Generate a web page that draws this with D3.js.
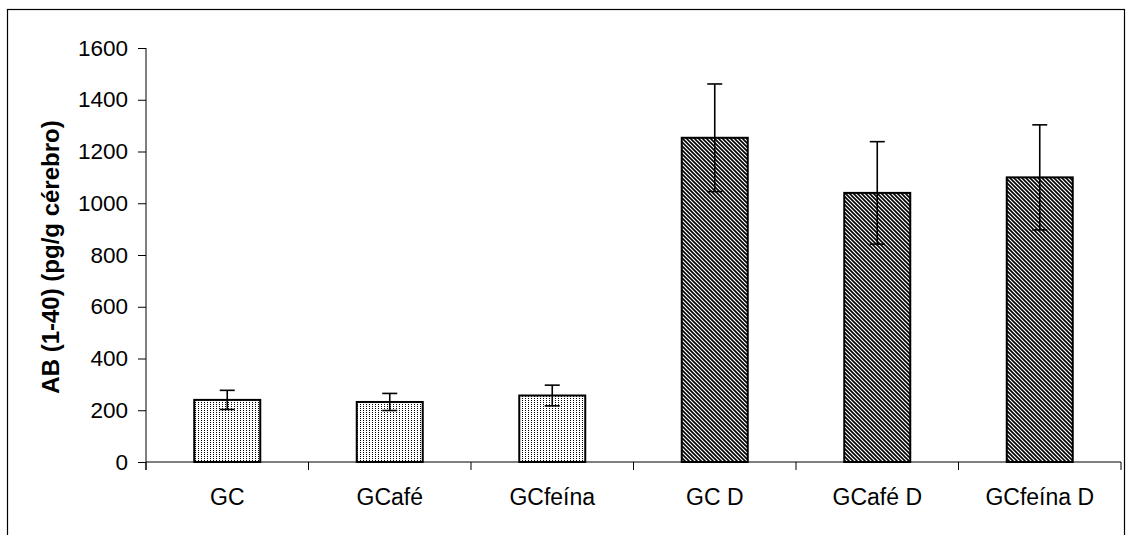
<!DOCTYPE html>
<html>
<head>
<meta charset="utf-8">
<script src="https://cdn.jsdelivr.net/npm/d3@7"></script>
<style>
  body { margin: 0; background: #fff; }
  svg { display: block; font-family: "Liberation Sans", Arial, sans-serif; }
</style>
</head>
<body>
<svg id="graph" width="1126" height="535"></svg>
<script>
var categories = ["GC", "GCafé", "GCfeína", "GC D", "GCafé D", "GCfeína D"];
var means = [240, 232, 257, 1253, 1040, 1100];
var errors = [37, 33, 40, 208, 198, 203];
var fills = ["dots", "dots", "dots", "hatch", "hatch", "hatch"];
var yTicks = [0, 200, 400, 600, 800, 1000, 1200, 1400, 1600];
var yTitle = "AB (1-40) (pg/g cérebro)";

var svg = d3.select("#graph");
var mLeft = 146, mTop = 48, mRight = 1121, mBottom = 462;

// outer frame
svg.append("rect")
    .attr("x", 7.5).attr("y", 9.5)
    .attr("width", 1117).attr("height", 540)
    .attr("fill", "none").attr("stroke", "#000").attr("stroke-width", 1.2);

var defs = svg.append("defs");
var dots = defs.append("pattern").attr("id", "dots")
    .attr("patternUnits", "userSpaceOnUse").attr("width", 3).attr("height", 2);
dots.append("rect").attr("width", 3).attr("height", 2).attr("fill", "#fff");
dots.append("rect").attr("width", 1).attr("height", 1).attr("fill", "#000");

var hatch = defs.append("pattern").attr("id", "hatch")
    .attr("patternUnits", "userSpaceOnUse").attr("width", 4).attr("height", 4);
hatch.append("rect").attr("width", 4).attr("height", 4).attr("fill", "#fff");
hatch.append("path").attr("d", "M-1,-1 L5,5 M-1,3 L1,5 M3,-1 L5,1")
    .attr("stroke", "#000").attr("stroke-width", 1.6);

var x = d3.scaleBand().domain(categories).range([mLeft, mRight]).paddingInner(0).paddingOuter(0);
var y = d3.scaleLinear().domain([0, 1600]).range([mBottom, mTop]);

var yAxis = svg.append("g")
    .attr("transform", "translate(" + mLeft + ",0)")
    .call(d3.axisLeft(y).tickValues(yTicks).tickFormat(d3.format("d"))
        .tickSize(8).tickPadding(10).tickSizeOuter(0));
yAxis.select(".domain").attr("d", "M0," + mTop + "V" + (mBottom + 8));
yAxis.selectAll("text").attr("font-size", 22.5).attr("font-family", "Liberation Sans, Arial").attr("fill", "#000");
yAxis.selectAll("line, path").attr("stroke", "#000");

var xAxis = svg.append("g")
    .attr("transform", "translate(0," + mBottom + ")")
    .call(d3.axisBottom(x).tickSize(0).tickPadding(27));
xAxis.select(".domain").attr("d", "M" + mLeft + ",0H" + mRight);
xAxis.selectAll("text").attr("font-size", 23).attr("font-family", "Liberation Sans, Arial").attr("fill", "#000");
xAxis.selectAll("path").attr("stroke", "#000");
// boundary ticks between categories
xAxis.selectAll(".bound")
    .data(categories.concat([null]))
    .enter().append("line")
    .attr("x1", function(d, i) { return mLeft + i * x.bandwidth(); })
    .attr("x2", function(d, i) { return mLeft + i * x.bandwidth(); })
    .attr("y1", 0).attr("y2", 8)
    .attr("stroke", "#000");

var barW = 66;
svg.selectAll(".bar")
    .data(means)
    .enter().append("rect")
    .attr("x", function(d, i) { return x(categories[i]) + x.bandwidth() / 2 - barW / 2; })
    .attr("y", function(d) { return y(d); })
    .attr("width", barW)
    .attr("height", function(d) { return mBottom - y(d); })
    .attr("fill", function(d, i) { return "url(#" + fills[i] + ")"; })
    .attr("stroke", "#000").attr("stroke-width", 2);

var err = svg.selectAll(".err")
    .data(means)
    .enter().append("g")
    .attr("transform", function(d, i) { return "translate(" + (x(categories[i]) + x.bandwidth() / 2) + ",0)"; });
err.append("line")
    .attr("y1", function(d, i) { return y(d + errors[i]); })
    .attr("y2", function(d, i) { return y(d - errors[i]); })
    .attr("stroke", "#000").attr("stroke-width", 1.6);
err.append("line").attr("x1", -7.5).attr("x2", 7.5)
    .attr("y1", function(d, i) { return y(d + errors[i]); })
    .attr("y2", function(d, i) { return y(d + errors[i]); })
    .attr("stroke", "#000").attr("stroke-width", 1.6);
err.append("line").attr("x1", -7.5).attr("x2", 7.5)
    .attr("y1", function(d, i) { return y(d - errors[i]); })
    .attr("y2", function(d, i) { return y(d - errors[i]); })
    .attr("stroke", "#000").attr("stroke-width", 1.6);

svg.append("text")
    .attr("transform", "translate(59,257) rotate(-90)")
    .attr("text-anchor", "middle")
    .attr("font-size", 24).attr("font-weight", "bold")
    .text(yTitle);
</script>
</body>
</html>
